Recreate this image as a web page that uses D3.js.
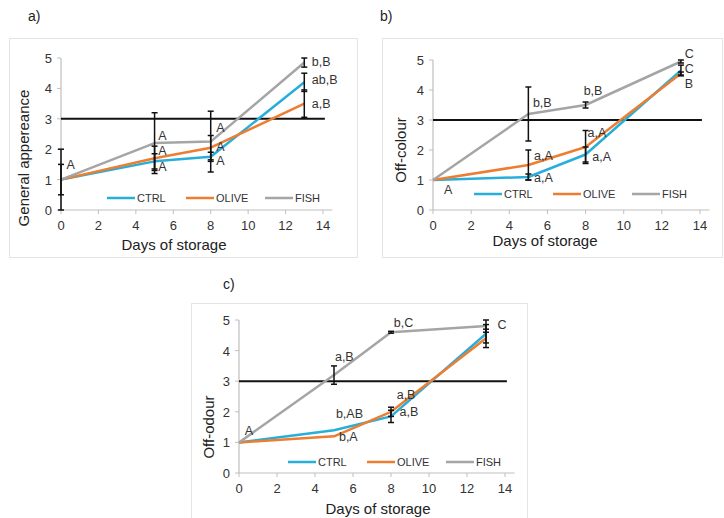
<!DOCTYPE html>
<html lang="en">
<head>
<meta charset="UTF-8">
<script src="https://d3js.org/d3.v7.min.js"></script>
<style>
  body { margin: 0; background: #fff; }
  svg { font-family: 'Liberation Sans', Arial, sans-serif; }
</style>
</head>
<body>
<svg id="chart" width="724" height="518"></svg>
<script>
// ---- data ----------------------------------------------------------------
const days = [0, 5, 8, 13];
const seriesNames = ["CTRL", "OLIVE", "FISH"];
const xTicks = [0, 2, 4, 6, 8, 10, 12, 14];
const yTicks = [0, 1, 2, 3, 4, 5];
const threshold = 3;

// a) general appearance
const appearCtrl = [1, 1.6, 1.75, 4.2];
const appearOlive = [1, 1.7, 2.05, 3.5];
const appearFish = [1, 2.2, 2.25, 4.85];
const appearCtrlErr = [0, 0.25, 0.15, 0.3];
const appearOliveErr = [0.5, 0.4, 0.4, 0.45];
const appearFishErr = [1, 1.0, 1.0, 0.15];
const appearLabels = [
  [0.3, 1.5, "A"], [5.2, 2.45, "A"], [5.2, 1.95, "A"], [5.2, 1.42, "A"],
  [8.3, 2.72, "A"], [8.3, 2.1, "A"], [8.3, 1.62, "A"],
  [13.4, 4.9, "b,B"], [13.4, 4.28, "ab,B"], [13.4, 3.49, "a,B"]
];

// b) off-colour
const colourCtrl = [1, 1.1, 1.85, 4.65];
const colourOlive = [1, 1.5, 2.1, 4.55];
const colourFish = [1, 3.2, 3.5, 4.95];
const colourCtrlErr = [0, 0.1, 0.25, 0.18];
const colourOliveErr = [0, 0.5, 0.55, 0.05];
const colourFishErr = [0, 0.9, 0.1, 0.05];
const colourLabels = [
  [0.58, 0.7, "A"], [5.24, 3.6, "b,B"], [5.3, 1.83, "a,A"], [5.3, 1.07, "a,A"],
  [7.9, 4.0, "b,B"], [8.1, 2.6, "a,A"], [8.35, 1.77, "a,A"],
  [13.2, 5.23, "C"], [13.2, 4.73, "C"], [13.2, 4.23, "B"]
];

// c) off-odour
const odourCtrl = [1, 1.4, 1.85, 4.55];
const odourOlive = [1, 1.2, 2.0, 4.4];
const odourFish = [1, 3.2, 4.6, 4.8];
const odourCtrlErr = [0, 0, 0.2, 0.3];
const odourOliveErr = [0, 0, 0.15, 0.3];
const odourFishErr = [0, 0.3, 0.03, 0.2];
const odourLabels = [
  [0.3, 1.4, "A"], [5.05, 3.82, "a,B"], [8.15, 4.93, "b,C"], [13.6, 4.84, "C"],
  [5.1, 1.93, "b,AB"], [5.26, 1.2, "b,A"], [8.3, 2.55, "a,B"], [8.45, 2.0, "a,B"]
];

const colors = ["#27aedb", "#ed7d31", "#a5a5a5"];

// ---- drawing -------------------------------------------------------------
const svg = d3.select("#chart");

const drawPanel = (p) => {
  const g = svg.append("g");
  g.append("rect")
    .attr("x", p.frame[0] + 0.5).attr("y", p.frame[1] + 0.5)
    .attr("width", p.frame[2] - p.frame[0]).attr("height", p.frame[3] - p.frame[1])
    .attr("fill", "#fff").attr("stroke", "#e4e4e4");

  g.append("text").attr("x", p.tag[0]).attr("y", p.tag[1])
    .attr("font-size", 14).attr("fill", "#222").text(p.tagText);

  const x = d3.scaleLinear().domain([0, 14]).range(p.xr);
  const y = d3.scaleLinear().domain([0, 5]).range(p.yr);

  // axes
  g.append("line").attr("x1", x(0)).attr("x2", x(14.5)).attr("y1", y(0)).attr("y2", y(0))
    .attr("stroke", "#bfbfbf").attr("stroke-width", 1.2);
  g.append("line").attr("x1", x(0)).attr("x2", x(0)).attr("y1", y(0)).attr("y2", y(5))
    .attr("stroke", "#bfbfbf").attr("stroke-width", 1.2);
  g.selectAll(".xt").data(xTicks).join("line")
    .attr("x1", d => x(d)).attr("x2", d => x(d)).attr("y1", y(0)).attr("y2", y(0) + 4)
    .attr("stroke", "#bfbfbf");
  g.selectAll(".yt").data(yTicks).join("line")
    .attr("x1", x(0) - 4).attr("x2", x(0)).attr("y1", d => y(d)).attr("y2", d => y(d))
    .attr("stroke", "#bfbfbf");
  g.selectAll(".xl").data(xTicks).join("text")
    .attr("x", d => x(d)).attr("y", y(0) + 20).attr("text-anchor", "middle")
    .attr("font-size", 13).attr("fill", "#333").text(d => d);
  g.selectAll(".yl").data(yTicks).join("text")
    .attr("x", x(0) - 9).attr("y", d => y(d) + 5).attr("text-anchor", "end")
    .attr("font-size", 13).attr("fill", "#333").text(d => d);

  g.append("text").attr("x", p.xTitle[0]).attr("y", p.xTitle[1]).attr("text-anchor", "middle")
    .attr("font-size", 15).attr("fill", "#222").text("Days of storage");
  g.append("text").attr("transform", `translate(${p.yTitle[0]},${p.yTitle[1]}) rotate(-90)`)
    .attr("text-anchor", "middle").attr("font-size", 15).attr("fill", "#222").text(p.yTitleText);

  // threshold
  g.append("line").attr("x1", x(0)).attr("x2", x(14.1)).attr("y1", y(threshold)).attr("y2", y(threshold))
    .attr("stroke", "#111").attr("stroke-width", 2);

  // series lines
  const line = d3.line().x((d, i) => x(days[i])).y(d => y(d));
  p.series.forEach((s, k) => {
    g.append("path").datum(s).attr("d", line)
      .attr("fill", "none").attr("stroke", colors[k]).attr("stroke-width", 2.5)
      .attr("stroke-linejoin", "round");
  });

  // error bars
  p.errors.forEach((e, k) => {
    e.forEach((err, i) => {
      if (!err) return;
      const v = p.series[k][i], cx = x(days[i]);
      const eg = g.append("g").attr("stroke", "#111").attr("stroke-width", 1.5);
      eg.append("line").attr("x1", cx).attr("x2", cx).attr("y1", y(v - err)).attr("y2", y(v + err));
      [v - err, v + err].forEach(t => eg.append("line")
        .attr("x1", cx - 3).attr("x2", cx + 3).attr("y1", y(t)).attr("y2", y(t)));
    });
  });

  // letter labels
  g.selectAll(".lab").data(p.labels).join("text")
    .attr("x", d => x(d[0])).attr("y", d => y(d[1]) + 4.5)
    .attr("font-size", 12.5).attr("fill", "#333").text(d => d[2]);

  // legend
  seriesNames.forEach((n, k) => {
    const lx = x(0) + p.legend[0] + k * 79, ly = y(0) - p.legend[1];
    g.append("line").attr("x1", lx).attr("x2", lx + 28).attr("y1", ly).attr("y2", ly)
      .attr("stroke", colors[k]).attr("stroke-width", 2.5);
    g.append("text").attr("x", lx + 30).attr("y", ly + 4)
      .attr("font-size", 11).attr("fill", "#333").text(n);
  });
};

drawPanel({
  frame: [9, 38, 357, 257], tag: [28, 21], tagText: "a)",
  xr: [61, 323], yr: [210, 58],
  xTitle: [174, 250], yTitle: [29, 158], yTitleText: "General appereance",
  series: [appearCtrl, appearOlive, appearFish],
  errors: [appearCtrlErr, appearOliveErr, appearFishErr],
  labels: appearLabels, legend: [46, 12]
});
drawPanel({
  frame: [382, 38, 722, 257], tag: [380, 21], tagText: "b)",
  xr: [433, 700], yr: [210, 60],
  xTitle: [545, 246], yTitle: [406, 150], yTitleText: "Off-colour",
  series: [colourCtrl, colourOlive, colourFish],
  errors: [colourCtrlErr, colourOliveErr, colourFishErr],
  labels: colourLabels, legend: [41, 16]
});
drawPanel({
  frame: [191, 303, 527, 530], tag: [223, 289], tagText: "c)",
  xr: [239, 505], yr: [473, 320],
  xTitle: [378, 514], yTitle: [214, 427], yTitleText: "Off-odour",
  series: [odourCtrl, odourOlive, odourFish],
  errors: [odourCtrlErr, odourOliveErr, odourFishErr],
  labels: odourLabels, legend: [49, 11]
});
</script>
</body>
</html>
